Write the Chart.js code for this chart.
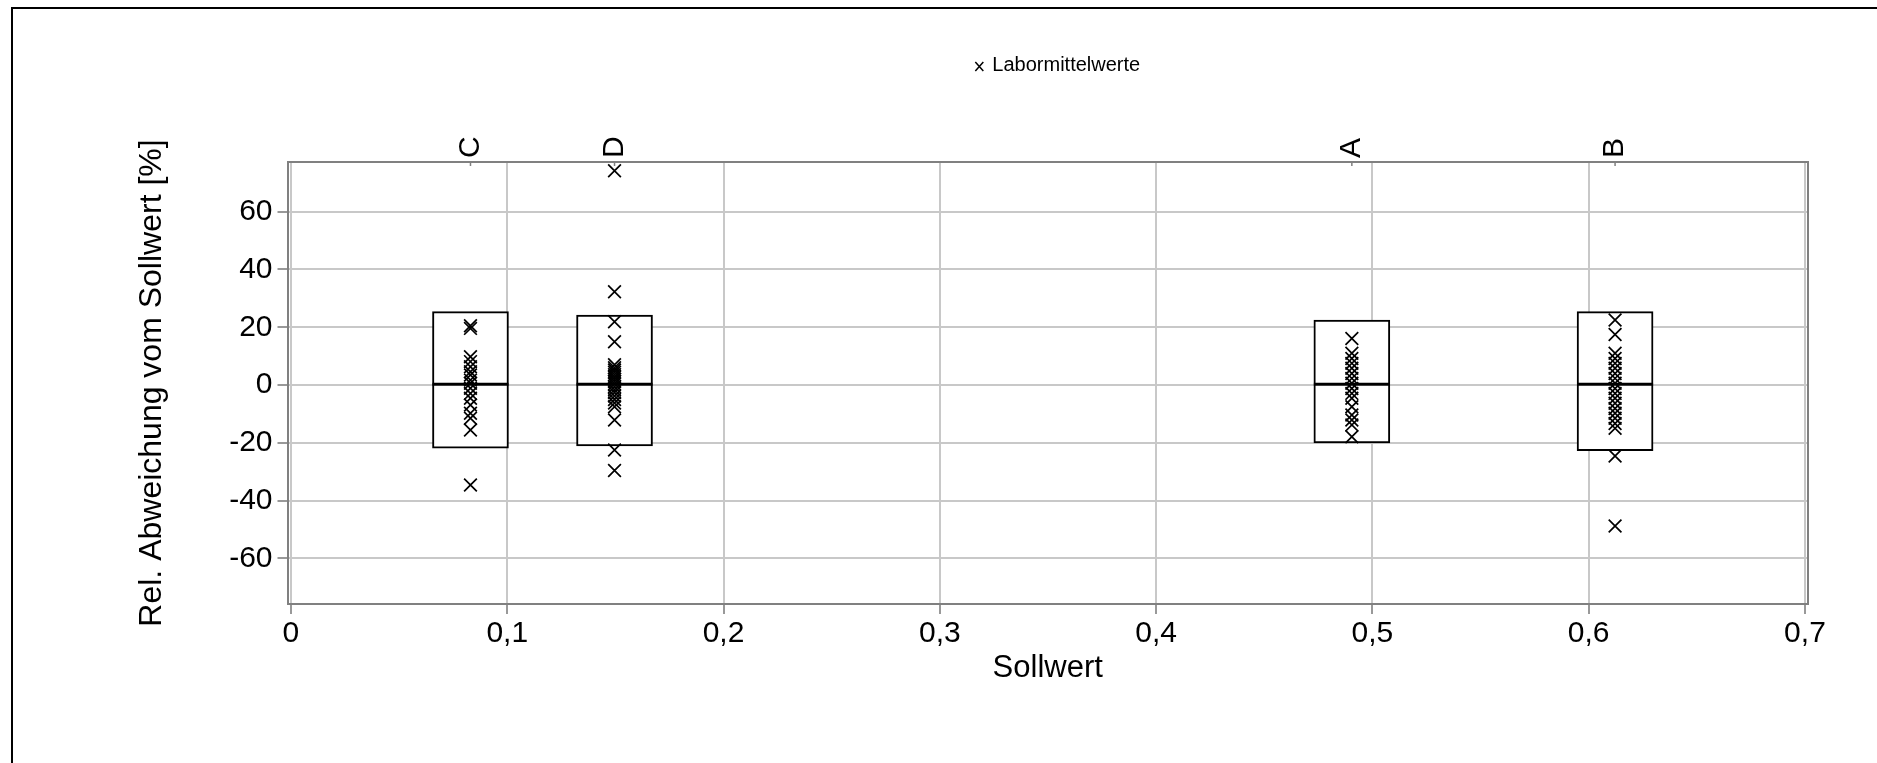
<!DOCTYPE html>
<html>
<head>
<meta charset="utf-8">
<script src="https://cdn.jsdelivr.net/npm/chart.js@4.4.1/dist/chart.umd.min.js"></script>
<style>
html, body { margin: 0; padding: 0; background: #fff; overflow: hidden; }
#wrap { position: absolute; left: 0; top: 0; width: 1877px; height: 763px; }
#frame { position: absolute; left: 11px; top: 7px; width: 1900px; height: 800px;
         border-left: 2px solid #000; border-top: 2px solid #000; }
</style>
</head>
<body>
<div id="frame"></div>
<div id="wrap"><canvas id="chart"></canvas></div>
<script>
const font_family = '"Liberation Sans", Arial, sans-serif';

// categories and their Sollwert (x position)
const categories = ['C', 'D', 'A', 'B'];
const sollwert = [0.083, 0.1496, 0.4905, 0.6122];

// boxes
const box_upper = [25.4, 24.2, 22.5, 25.4];
const box_lower = [-21.9, -21.1, -20.0, -22.7];
const box_median = [0.3, 0.3, 0.3, 0.3];

// Labormittelwerte per category
const lab_C = [20.5, 19.6, 9.8, 8.1, 6.3, 4.6, 3.5, 1.7, 0.6, -1.1, -2.9, -4.6, -6.9, -9.8, -11.5, -15.6, -34.6];
const lab_D = [74.2, 32.3, 21.9, 15.0, 7.0, 6.0, 5.2, 4.4, 3.6, 2.8, 2.0, 1.2, 0.4, -0.6, -1.6, -2.6, -3.8, -5.0, -6.2, -7.5, -12.1, -22.5, -29.6];
const lab_A = [16.1, 11.0, 9.2, 7.5, 5.8, 4.0, 2.3, 0.6, -1.2, -2.9, -4.6, -7.5, -10.4, -12.1, -13.8, -17.9];
const lab_B = [22.5, 17.5, 11.0, 9.2, 7.5, 5.8, 4.0, 2.3, 0.6, -1.2, -2.9, -4.6, -6.3, -8.1, -9.8, -11.5, -13.3, -15.0, -24.6, -48.8];
const lab_values = [lab_C, lab_D, lab_A, lab_B];

// tick labels
const x_ticks = [0, 0.1, 0.2, 0.3, 0.4, 0.5, 0.6, 0.7];
const y_ticks = [-60, -40, -20, 0, 20, 40, 60];

const legend_label = 'Labormittelwerte';

const box_data = categories.map((c, i) => ({ x: sollwert[i], y: [box_lower[i], box_upper[i]] }));
const lab_points = [];
lab_values.forEach((arr, i) => {
    arr.forEach(v => lab_points.push({ x: sollwert[i], y: v }));
});

function de_number(v)
{
    return String(Math.round(v * 10) / 10).replace('.', ',');
}

// median line inside each box
const median_plugin = {
    id: 'median_lines',
    afterDatasetDraw(chart, args) {
        if (args.index !== 0) return;
        const ctx = chart.ctx;
        const y = chart.scales.y;
        ctx.save();
        ctx.strokeStyle = '#000';
        ctx.lineWidth = 3;
        args.meta.data.forEach((bar, i) => {
            const py = y.getPixelForValue(box_median[i]);
            ctx.beginPath();
            ctx.moveTo(bar.x - bar.width / 2, py);
            ctx.lineTo(bar.x + bar.width / 2, py);
            ctx.stroke();
        });
        ctx.restore();
    }
};

// frame top/right, category labels, legend
const decor_plugin = {
    id: 'decor',
    beforeDatasetsDraw(chart) {
        const ctx = chart.ctx;
        const a = chart.chartArea;
        const x = chart.scales.x;
        ctx.save();
        ctx.strokeStyle = '#808080';
        ctx.lineWidth = 2;
        ctx.beginPath();
        ctx.moveTo(a.left, a.top);
        ctx.lineTo(a.right, a.top);
        ctx.lineTo(a.right, a.bottom);
        ctx.stroke();

        ctx.lineWidth = 1.5;
        sollwert.forEach(v => {
            const px = x.getPixelForValue(v);
            ctx.beginPath();
            ctx.moveTo(px, a.top);
            ctx.lineTo(px, a.top + 4);
            ctx.stroke();
        });
        ctx.restore();
    },
    afterDraw(chart) {
        const ctx = chart.ctx;
        const a = chart.chartArea;
        const x = chart.scales.x;
        ctx.save();
        ctx.fillStyle = '#000';
        ctx.font = '30px ' + font_family;
        ctx.textAlign = 'left';
        ctx.textBaseline = 'middle';
        categories.forEach((c, i) => {
            ctx.save();
            ctx.translate(x.getPixelForValue(sollwert[i]), a.top - 4);
            ctx.rotate(-Math.PI / 2);
            ctx.fillText(c, 0, 0);
            ctx.restore();
        });

        // legend
        ctx.font = '20px ' + font_family;
        const tw = ctx.measureText(legend_label).width;
        const total = 9 + 8 + tw;
        const start = (a.left + a.right) / 2 + 10 - total / 2;
        const ly = 65;
        ctx.strokeStyle = '#000';
        ctx.lineWidth = 1.5;
        ctx.beginPath();
        ctx.moveTo(start, ly - 3); ctx.lineTo(start + 8, ly + 6);
        ctx.moveTo(start + 8, ly - 3); ctx.lineTo(start, ly + 6);
        ctx.stroke();
        ctx.fillText(legend_label, start + 17, ly);
        ctx.restore();
    }
};

new Chart(document.getElementById('chart'), {
    type: 'scatter',
    data: {
        datasets: [
            {
                type: 'bar',
                label: 'Box',
                data: box_data,
                backgroundColor: '#ffffff',
                borderColor: '#000000',
                borderWidth: 2,
                borderSkipped: false,
                barThickness: 76,
                grouped: false,
                order: 2
            },
            {
                type: 'scatter',
                label: legend_label,
                data: lab_points,
                pointStyle: 'crossRot',
                pointRadius: 9,
                pointBorderWidth: 1.7,
                borderColor: '#000000',
                backgroundColor: '#000000',
                order: 1
            }
        ]
    },
    options: {
        responsive: true,
        maintainAspectRatio: false,
        animation: false,
        layout: { padding: { top: 162, right: 69, bottom: 0, left: 0 } },
        plugins: {
            legend: { display: false },
            tooltip: { enabled: false }
        },
        scales: {
            x: {
                type: 'linear',
                position: 'bottom',
                offset: false,
                min: -0.0016,
                max: 0.7014,
                afterBuildTicks: s => { s.ticks = x_ticks.map(v => ({ value: v })); },
                afterFit: s => { s.height = 159; },
                grid: { offset: false, color: '#c8c8c8', lineWidth: 2, tickLength: 10, tickColor: '#999999' },
                border: { color: '#808080', width: 2 },
                ticks: {
                    font: { size: 30, family: font_family },
                    color: '#000',
                    padding: 2,
                    maxRotation: 0,
                    callback: v => de_number(v)
                },
                title: {
                    display: true,
                    text: 'Sollwert',
                    font: { size: 31, family: font_family },
                    color: '#000',
                    padding: { top: 0, bottom: 76 }
                }
            },
            y: {
                type: 'linear',
                min: -75.8,
                max: 77.2,
                afterBuildTicks: s => { s.ticks = y_ticks.map(v => ({ value: v })); },
                afterFit: s => { s.width = 287.5; },
                grid: { color: '#c8c8c8', lineWidth: 2, tickLength: 10, tickColor: '#999999' },
                border: { color: '#808080', width: 2 },
                ticks: {
                    font: { size: 30, family: font_family },
                    color: '#000',
                    padding: 5
                },
                title: {
                    display: true,
                    text: 'Rel. Abweichung vom Sollwert [%]',
                    font: { size: 32, family: font_family },
                    color: '#000',
                    padding: { top: 133, bottom: 0 }
                }
            }
        }
    },
    plugins: [median_plugin, decor_plugin]
});
</script>
</body>
</html>
